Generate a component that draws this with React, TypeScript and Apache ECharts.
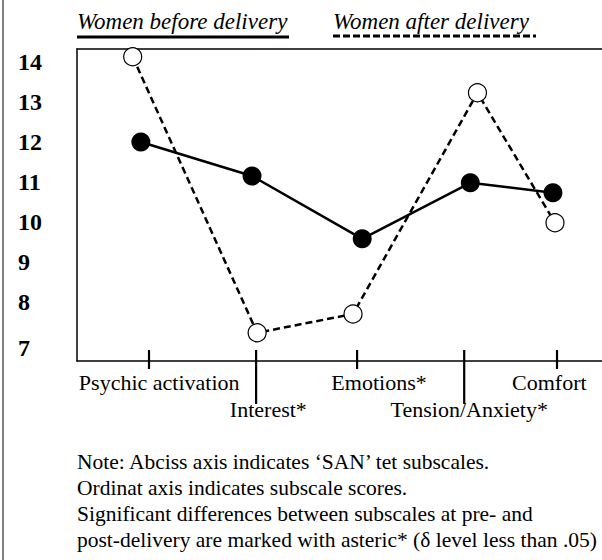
import React, { useEffect, useRef } from "react";
import * as echarts from "echarts";

// ---- data ----
const categories = ["Psychic activation", "Interest*", "Emotions*", "Tension/Anxiety*", "Comfort"];
const labelRow = [0, 1, 0, 1, 0];
const tickPos = [1, 2.05, 3.04, 4.09, 5];
const labelPos = [1.1, 2.17, 3.255, 4.14, 4.925];
const seriesNames = ["Women before delivery", "Women after delivery"];
const beforeX = [0.92, 2.01, 3.09, 4.15, 4.96];
const beforeY = [12.0, 11.15, 9.58, 10.98, 10.73];
const afterX = [0.84, 2.06, 3.0, 4.22, 4.98];
const afterY = [14.13, 7.23, 7.7, 13.23, 9.98];
const yTicks = [7, 8, 9, 10, 11, 12, 13, 14];
const noteLines = [
  "Note: Abciss axis indicates \u2018SAN\u2019 tet subscales.",
  "Ordinat axis indicates subscale scores.",
  "Significant differences between subscales at pre- and",
  "post-delivery are marked with asteric* (\u03b4 level less than .05)",
];

const X_MIN = 0.294;
const X_MAX = 5.441;
const Y_MIN = 6.525;
const Y_MAX = 14.325;
const FONT = "'Liberation Serif', 'Times New Roman', serif";

export default function App() {
  const ref = useRef<HTMLDivElement>(null);
  useEffect(() => {
    if (!ref.current) return;
    const chart = echarts.init(ref.current, undefined, { renderer: "svg" });
    const option: any = {
      animation: false,
      backgroundColor: "#fff",
      grid: { left: 77, top: 49, right: 0, bottom: 199, containLabel: false, outerBoundsMode: "none" },
      xAxis: [
        {
          type: "value",
          min: X_MIN,
          max: X_MAX,
          position: "bottom",
          axisLine: { show: true, lineStyle: { color: "#000", width: 1.5 } },
          axisTick: { show: false },
          splitLine: { show: false },
          axisLabel: {
            show: true,
            customValues: labelPos,
            margin: 10,
            color: "#000",
            fontFamily: FONT,
            fontSize: 22,
            formatter: (v: number) => {
              const i = labelPos.findIndex((p) => Math.abs(p - v) < 1e-6);
              if (i < 0) return "";
              return labelRow[i] ? `{r2|${categories[i]}}` : `{r1|${categories[i]}}`;
            },
            rich: {
              r1: { fontFamily: FONT, fontSize: 22, color: "#000" },
              r2: { fontFamily: FONT, fontSize: 22, color: "#000", padding: [27, 0, 0, 0] },
            },
          },
        },
        {
          type: "value",
          min: X_MIN,
          max: X_MAX,
          position: "top",
          axisLine: { show: true, lineStyle: { color: "#000", width: 1.5 } },
          axisTick: { show: false },
          axisLabel: { show: false },
          splitLine: { show: false },
        },
      ],
      yAxis: {
        type: "value",
        min: Y_MIN,
        max: Y_MAX,
        axisLine: { show: true, lineStyle: { color: "#000", width: 1.5 } },
        axisTick: { show: false },
        splitLine: { show: false },
        axisLabel: {
          show: true,
          customValues: yTicks,
          align: "left",
          margin: 59,
          color: "#000",
          fontFamily: FONT,
          fontSize: 24,
          fontWeight: "bold",
          formatter: (v: number) => (Math.abs(v - 7) < 1e-6 ? `{low|${v}}` : `{n|${v}}`),
          rich: {
            n: { fontFamily: FONT, fontSize: 24, fontWeight: "bold", color: "#000" },
            low: { fontFamily: FONT, fontSize: 24, fontWeight: "bold", color: "#000", padding: [12, 0, 0, 0] },
          },
        },
      },
      series: [
        {
          type: "custom",
          name: "ticks",
          xAxisIndex: 0,
          clip: false,
          silent: true,
          encode: { x: 0, y: 1 },
          data: tickPos.map((x, i) => [x, Y_MIN, labelRow[i]]),
          renderItem: (params: any, api: any) => {
            const p = api.coord([api.value(0), Y_MIN]);
            const long = api.value(2) === 1;
            return {
              type: "line",
              shape: { x1: p[0], y1: p[1] - 11, x2: p[0], y2: p[1] + (long ? 43 : 8) },
              style: { stroke: "#000", lineWidth: 2.2 },
            };
          },
          z: 3,
        },
        {
          type: "line",
          name: seriesNames[0],
          data: beforeX.map((x, i) => [x, beforeY[i]]),
          symbol: "circle",
          symbolSize: 19,
          showSymbol: true,
          lineStyle: { color: "#000", width: 2.5, type: "solid" },
          itemStyle: { color: "#000", borderColor: "#000", borderWidth: 0 },
          z: 4,
        },
        {
          type: "line",
          name: seriesNames[1],
          data: afterX.map((x, i) => [x, afterY[i]]),
          symbol: "circle",
          symbolSize: 18,
          showSymbol: true,
          lineStyle: { color: "#000", width: 2.5, type: [7, 4] },
          itemStyle: { color: "#fff", borderColor: "#000", borderWidth: 1.2 },
          z: 5,
        },
      ],
      graphic: [
        {
          type: "line",
          shape: { x1: 3, y1: 0, x2: 3, y2: 560 },
          style: { stroke: "#808080", lineWidth: 2 },
        },
        {
          type: "text",
          x: 77,
          y: 21,
          style: {
            text: seriesNames[0],
            fontFamily: FONT,
            fontStyle: "italic",
            fontSize: 23,
            fill: "#000",
            verticalAlign: "middle",
            align: "left",
          },
        },
        {
          type: "line",
          shape: { x1: 77, y1: 37, x2: 289, y2: 37 },
          style: { stroke: "#000", lineWidth: 3 },
        },
        {
          type: "text",
          x: 333,
          y: 21,
          style: {
            text: seriesNames[1],
            fontFamily: FONT,
            fontStyle: "italic",
            fontSize: 23,
            fill: "#000",
            verticalAlign: "middle",
            align: "left",
          },
        },
        {
          type: "line",
          shape: { x1: 333, y1: 36, x2: 536, y2: 36 },
          style: { stroke: "#000", lineWidth: 3, lineDash: [7, 3] },
        },
        {
          type: "text",
          x: 77,
          y: 449,
          style: {
            text: noteLines.join("\n"),
            fontFamily: FONT,
            fontSize: 21.5,
            lineHeight: 26,
            fill: "#000",
            verticalAlign: "top",
            align: "left",
          },
        },
      ],
    };
    chart.setOption(option);
    return () => chart.dispose();
  }, []);
  return (
    <div
      ref={ref}
      style={{ position: "absolute", left: 0, top: 0, width: 602, height: 560 }}
    />
  );
}
